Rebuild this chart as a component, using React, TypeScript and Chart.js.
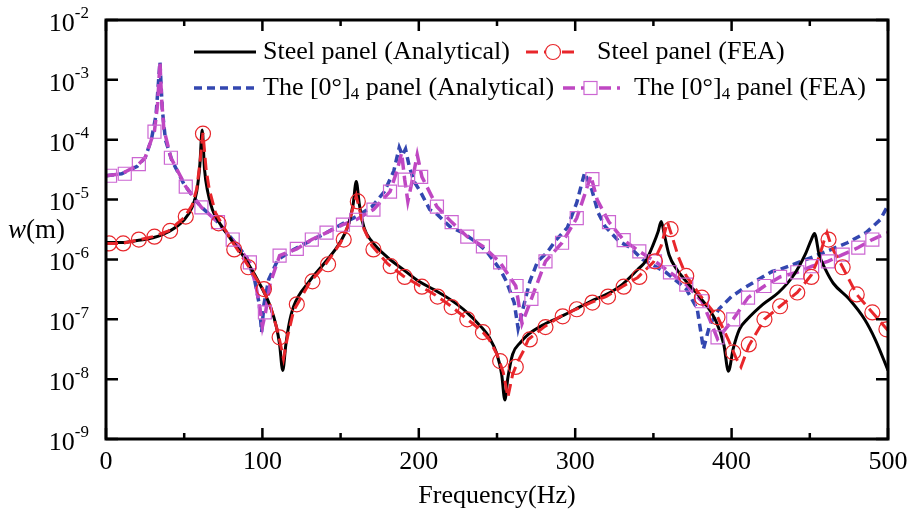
import React, { useEffect, useRef } from 'react';
import { Chart, registerables } from 'chart.js';

Chart.register(...registerables);

// ---------- tick labels ----------
const xMajorTicks = [0, 100, 200, 300, 400, 500];
const xMinorTicks = [50, 150, 250, 350, 450];
const yTickExponents = [-2, -3, -4, -5, -6, -7, -8, -9];

// ---------- Steel panel (Analytical) ----------
const steelAnaF = [0, 10, 20, 30, 40, 50, 55, 58, 60, 61.5, 63, 65, 68, 72, 80, 90, 100, 105, 109, 111, 113, 115, 117, 120, 130, 140, 150, 155, 158, 160, 162, 165, 170, 180, 190, 200, 210, 220, 230, 240, 245, 250, 253, 255, 257, 260, 265, 270, 280, 290, 300, 310, 320, 330, 340, 345, 350, 353, 355, 357, 360, 365, 370, 380, 390, 395, 398, 401, 405, 410, 420, 430, 440, 447, 451, 453, 456, 460, 465, 475, 485, 492, 500];
const steelAnaW = [1.92e-6, 1.92e-6, 2.07e-6, 2.3e-6, 2.9e-6, 4.6e-6, 7.4e-6, 1.36e-5, 3.8e-5, 1.45e-4, 3.2e-5, 1.36e-5, 6.8e-6, 4.3e-6, 2.15e-6, 9.3e-7, 3.2e-7, 1.65e-7, 7.4e-8, 3.8e-8, 1.4e-8, 3.8e-8, 8.2e-8, 1.65e-7, 4.3e-7, 8.9e-7, 2.0e-6, 3.8e-6, 8.3e-6, 2.0e-5, 8.3e-6, 3.4e-6, 2.0e-6, 1.08e-6, 6.8e-7, 4.3e-7, 3.1e-7, 2.15e-7, 1.36e-7, 7.4e-8, 5.0e-8, 2.6e-8, 1.2e-8, 4.5e-9, 1.08e-8, 2.6e-8, 4.1e-8, 5.6e-8, 8.2e-8, 1.08e-7, 1.47e-7, 2.0e-7, 2.6e-7, 3.8e-7, 6.8e-7, 9.3e-7, 1.8e-6, 2.9e-6, 4.3e-6, 2.6e-6, 1.2e-6, 6.8e-7, 4.6e-7, 2.3e-7, 9.3e-8, 3.8e-8, 1.36e-8, 3.2e-8, 6.8e-8, 1.0e-7, 1.78e-7, 2.8e-7, 5.6e-7, 1.2e-6, 2.15e-6, 2.7e-6, 1.2e-6, 6.8e-7, 4.0e-7, 2.2e-7, 1.0e-7, 4.5e-8, 1.4e-8];

// ---------- Steel panel (FEA) ----------
const steelFeaLineF = [0, 10, 20, 30, 40, 50, 55, 58, 60, 62, 64, 66, 70, 80, 90, 100, 105, 110, 113.5, 116, 120, 130, 140, 150, 155, 158, 160, 162, 165, 170, 180, 190, 200, 210, 220, 230, 240, 245, 250, 254, 257, 260, 263, 267, 270, 280, 290, 300, 310, 320, 330, 340, 350, 355, 357, 359, 362, 366, 371, 381, 391, 398, 403, 406, 411, 421, 431, 442, 451, 456, 459, 461, 464, 471, 480, 490, 500];
const steelFeaLineW = [1.85e-6, 1.85e-6, 2.1e-6, 2.4e-6, 3.0e-6, 5.0e-6, 8e-6, 1.5e-5, 4e-5, 1.3e-4, 3.2e-5, 1.5e-5, 6e-6, 2.1e-6, 8.5e-7, 3.3e-7, 1.7e-7, 6e-8, 2.2e-8, 5e-8, 1.4e-7, 4e-7, 8e-7, 1.9e-6, 3.8e-6, 7.5e-6, 1.15e-5, 7e-6, 3.2e-6, 1.7e-6, 8.5e-7, 5.3e-7, 3.7e-7, 2.6e-7, 1.7e-7, 1.05e-7, 6.5e-8, 4.6e-8, 2.6e-8, 1.3e-8, 5e-9, 1.2e-8, 1.9e-8, 3e-8, 4.6e-8, 7.4e-8, 1.1e-7, 1.45e-7, 1.9e-7, 2.4e-7, 3.5e-7, 5e-7, 9e-7, 1.7e-6, 2.7e-6, 4.2e-6, 2.4e-6, 1.1e-6, 5.3e-7, 2.3e-7, 1.1e-7, 4.5e-8, 2.2e-8, 1.6e-8, 3.6e-8, 1.0e-7, 1.65e-7, 2.8e-7, 5.5e-7, 1.1e-6, 2.0e-6, 2.8e-6, 1.6e-6, 7.4e-7, 2.6e-7, 1.3e-7, 6.5e-8];
const steelFeaMarkF = [2, 11, 21, 31, 41, 51, 62, 72, 82, 91, 101, 111, 122, 132, 142, 152, 161, 171, 182, 191, 202, 212, 221, 231, 241, 252, 262, 271, 281, 292, 301, 311, 321, 331, 341, 351, 361, 371, 381, 391, 401, 411, 421, 431, 442, 451, 462, 471, 480, 490, 499];
const steelFeaMarkW = [1.85e-6, 1.85e-6, 2.15e-6, 2.4e-6, 3.0e-6, 5.2e-6, 1.26e-4, 4.0e-6, 1.47e-6, 7.4e-7, 3.2e-7, 5.0e-8, 1.78e-7, 4.3e-7, 8.3e-7, 2.15e-6, 9.3e-6, 1.47e-6, 7.7e-7, 5.1e-7, 3.5e-7, 2.4e-7, 1.6e-7, 1.0e-7, 6.1e-8, 2.0e-8, 1.6e-8, 4.6e-8, 7.4e-8, 1.12e-7, 1.47e-7, 1.9e-7, 2.4e-7, 3.5e-7, 5.1e-7, 9.3e-7, 3.2e-6, 5.3e-7, 2.3e-7, 1.08e-7, 2.8e-8, 3.8e-8, 1.0e-7, 1.65e-7, 2.8e-7, 5.1e-7, 2.15e-6, 7.4e-7, 2.6e-7, 1.3e-7, 6.8e-8];

// ---------- The [0°]4 panel (Analytical) ----------
const laminaAnaF = [0, 10, 20, 25, 29, 32, 34.5, 36, 38, 42, 50, 60, 70, 80, 90, 95, 98, 99.5, 101, 104, 110, 120, 130, 140, 150, 160, 170, 178, 184, 187.5, 189.5, 191.5, 194, 197, 201, 207, 212, 220, 228, 236, 243, 252, 256, 261, 263.5, 266.6, 271, 276, 282, 288, 295, 301, 306, 310.6, 314.6, 319, 328, 335, 343, 358, 371, 378, 382, 386, 392, 400, 407, 417, 426, 431, 452, 474, 486, 495, 500];
const laminaAnaW = [2.5e-5, 2.7e-5, 3.6e-5, 5e-5, 1e-4, 2.6e-4, 2e-3, 3.2e-4, 1e-4, 4.6e-5, 1.78e-5, 7.9e-6, 4.6e-6, 2.3e-6, 1.08e-6, 4.6e-7, 1.78e-7, 6.1e-8, 1.78e-7, 4.6e-7, 1.0e-6, 1.47e-6, 2.0e-6, 2.7e-6, 3.8e-6, 5.2e-6, 7.6e-6, 1.36e-5, 3.0e-5, 7.4e-5, 5.5e-5, 7.0e-5, 3.5e-5, 2.0e-5, 1.36e-5, 6.8e-6, 5.6e-6, 3.5e-6, 2.8e-6, 2.0e-6, 1.4e-6, 6.8e-7, 4.3e-7, 1.9e-7, 7e-8, 1.5e-7, 4.3e-7, 9.3e-7, 1.3e-6, 2.15e-6, 3.4e-6, 8.9e-6, 2.8e-5, 1.47e-5, 6.1e-6, 3.6e-6, 2.0e-6, 1.6e-6, 1.0e-6, 6.1e-7, 3.2e-7, 1.5e-7, 3.2e-8, 8e-8, 1.5e-7, 2.4e-7, 3.2e-7, 4.6e-7, 6.3e-7, 6.8e-7, 1.1e-6, 1.9e-6, 2.8e-6, 4.6e-6, 8e-6];

// ---------- The [0°]4 panel (FEA) ----------
const laminaFeaLineF = [0, 10, 20, 25, 29, 31, 33, 34.5, 35.5, 37, 41.5, 51, 61, 71.6, 81, 92, 96, 99, 100, 102, 105, 111, 122, 131.6, 141, 151.5, 160, 171, 181.6, 186, 189, 191, 193, 196, 199, 202, 211.6, 221, 231, 241, 252, 262, 266, 272, 281, 291.6, 301, 306, 310, 314, 321.6, 331, 341, 351, 360.6, 371, 381, 386, 391, 401, 410.5, 421, 431, 442, 451.5, 461.6, 471, 481, 490, 500];
const laminaFeaLineW = [2.5e-5, 2.7e-5, 3.7e-5, 5e-5, 1.0e-4, 1.4e-4, 4e-4, 2e-3, 5e-4, 1.5e-4, 5e-5, 1.65e-5, 7.4e-6, 4.2e-6, 2.15e-6, 8.9e-7, 3.5e-7, 1.2e-7, 7.6e-8, 1.3e-7, 4e-7, 1.16e-6, 1.5e-6, 2.15e-6, 2.8e-6, 3.8e-6, 4.6e-6, 6.8e-6, 1.36e-5, 3e-5, 6e-5, 2.15e-5, 9.3e-6, 2.2e-5, 5.6e-5, 2.4e-5, 7.6e-6, 4.2e-6, 2.4e-6, 1.65e-6, 8.9e-7, 3.6e-7, 8.5e-8, 2.2e-7, 9.3e-7, 1.9e-6, 4.9e-6, 1.2e-5, 2.5e-5, 1.0e-5, 4.2e-6, 2.1e-6, 1.36e-6, 9.3e-7, 6.1e-7, 3.8e-7, 2.0e-7, 1.0e-7, 4.7e-8, 1.0e-7, 2.3e-7, 3.6e-7, 5.1e-7, 6.1e-7, 7.7e-7, 9.3e-7, 1.2e-6, 1.58e-6, 2.15e-6, 2.8e-6];
const laminaFeaMarkF = [2.6, 12, 21, 31, 41.5, 51, 61, 71.6, 81, 92, 101.6, 111, 122, 131.6, 141, 151.5, 160, 171, 181.6, 191, 201.5, 211.6, 221, 231, 241, 252, 262.5, 272, 281, 291.6, 301, 311, 321.6, 331, 341, 351, 360.6, 371, 381, 391, 401, 410.5, 421, 431, 442, 451.5, 461.6, 471, 481, 490];
const laminaFeaMarkW = [2.5e-5, 2.7e-5, 3.9e-5, 1.36e-4, 5e-5, 1.65e-5, 7.4e-6, 4.2e-6, 2.15e-6, 8.9e-7, 1.3e-7, 1.16e-6, 1.5e-6, 2.15e-6, 2.8e-6, 3.8e-6, 4.6e-6, 6.8e-6, 1.36e-5, 2.15e-5, 2.4e-5, 7.6e-6, 4.2e-6, 2.4e-6, 1.65e-6, 8.9e-7, 3.6e-7, 2.2e-7, 9.3e-7, 1.9e-6, 4.9e-6, 2.2e-5, 4.2e-6, 2.1e-6, 1.36e-6, 9.3e-7, 6.1e-7, 3.8e-7, 2.0e-7, 5e-8, 1.0e-7, 2.3e-7, 3.6e-7, 5.1e-7, 6.1e-7, 7.7e-7, 9.3e-7, 1.2e-6, 1.58e-6, 2.15e-6];

// ---------- styles ----------
const BLACK = '#000000';
const RED = '#e8262b';
const BLUE = '#3347b0';
const MAGENTA = '#bf47c2';
const MAGENTA_MARK = '#cc66d2';
const FONT = '"Liberation Serif", "Times New Roman", serif';
const SX = 1.0;
const FS = 26;
const FS_SMALL = 17;

const pts = (f: number[], w: number[]) => f.map((x, i) => ({ x, y: w[i] }));

function drawText(ctx: CanvasRenderingContext2D, s: string, x: number, y: number, size: number, align: CanvasTextAlign, italic = false) {
  ctx.save();
  ctx.font = `${italic ? 'italic ' : ''}${size}px ${FONT}`;
  ctx.textBaseline = 'middle';
  ctx.textAlign = align;
  ctx.fillStyle = '#000';
  ctx.translate(x, y);
  ctx.scale(SX, 1);
  ctx.fillText(s, 0, 0);
  ctx.restore();
}
function measure(ctx: CanvasRenderingContext2D, s: string, size: number, italic = false) {
  ctx.save();
  ctx.font = `${italic ? 'italic ' : ''}${size}px ${FONT}`;
  const w = ctx.measureText(s).width * SX;
  ctx.restore();
  return w;
}

const decorPlugin = {
  id: 'decor',
  afterDraw(chart: any) {
    const ctx: CanvasRenderingContext2D = chart.ctx;
    const { left, right, top, bottom } = chart.chartArea;
    const xs = chart.scales.x;
    const ys = chart.scales.y;
    ctx.save();
    ctx.strokeStyle = '#000';
    ctx.lineWidth = 3;
    ctx.strokeRect(left, top, right - left, bottom - top);
    ctx.lineWidth = 2.5;
    ctx.beginPath();
    xMajorTicks.forEach((v) => {
      const px = xs.getPixelForValue(v);
      ctx.moveTo(px, bottom); ctx.lineTo(px, bottom - 11);
      ctx.moveTo(px, top); ctx.lineTo(px, top + 11);
    });
    xMinorTicks.forEach((v) => {
      const px = xs.getPixelForValue(v);
      ctx.moveTo(px, bottom); ctx.lineTo(px, bottom - 6);
      ctx.moveTo(px, top); ctx.lineTo(px, top + 6);
    });
    yTickExponents.forEach((e) => {
      const py = ys.getPixelForValue(Math.pow(10, e));
      ctx.moveTo(left, py); ctx.lineTo(left + 12, py);
      ctx.moveTo(right, py); ctx.lineTo(right - 12, py);
    });
    ctx.stroke();
    ctx.restore();

    // x tick labels
    xMajorTicks.forEach((v) => {
      drawText(ctx, String(v), xs.getPixelForValue(v), bottom + 23, FS, 'center');
    });
    // y tick labels 10^e
    yTickExponents.forEach((e) => {
      const py = ys.getPixelForValue(Math.pow(10, e));
      const sup = String(e);
      const supW = measure(ctx, sup, FS_SMALL);
      const rightEdge = left - 17;
      drawText(ctx, sup, rightEdge - supW, py - 6, FS_SMALL, 'left');
      drawText(ctx, '10', rightEdge - supW, py + 4, FS, 'right');
    });
    // axis titles
    drawText(ctx, 'Frequency(Hz)', (left + right) / 2, bottom + 57, FS, 'center');
    const wW = measure(ctx, 'w', 27, true);
    drawText(ctx, 'w', 8, 231, 27, 'left', true);
    drawText(ctx, '(m)', 8 + wW, 231, 27, 'left');

    // legend
    const y1 = 52;
    const y2 = 88;
    ctx.save();
    ctx.lineWidth = 3;
    ctx.strokeStyle = BLACK;
    ctx.beginPath(); ctx.moveTo(194, y1); ctx.lineTo(256, y1); ctx.stroke();
    ctx.strokeStyle = RED;
    ctx.setLineDash([12, 6]);
    ctx.beginPath(); ctx.moveTo(526, y1); ctx.lineTo(580, y1); ctx.stroke();
    ctx.setLineDash([8, 5]);
    ctx.lineWidth = 3.5;
    ctx.strokeStyle = BLUE;
    ctx.beginPath(); ctx.moveTo(194, y2); ctx.lineTo(258, y2); ctx.stroke();
    ctx.setLineDash([12, 6]);
    ctx.strokeStyle = MAGENTA;
    ctx.beginPath(); ctx.moveTo(563, y2); ctx.lineTo(620, y2); ctx.stroke();
    ctx.setLineDash([]);
    ctx.lineWidth = 1.2;
    ctx.strokeStyle = RED;
    ctx.fillStyle = '#fff';
    ctx.beginPath(); ctx.arc(553, y1, 7.5, 0, Math.PI * 2); ctx.fill(); ctx.stroke();
    ctx.strokeStyle = MAGENTA_MARK;
    ctx.fillRect(584, y2 - 6.5, 13, 13);
    ctx.strokeRect(584, y2 - 6.5, 13, 13);
    ctx.restore();

    drawText(ctx, 'Steel panel (Analytical)', 263, y1, FS, 'left');
    drawText(ctx, 'Steel panel (FEA)', 597, y1, FS, 'left');
    const drawLam = (x: number, tail: string) => {
      const a = 'The [0°]';
      const aw = measure(ctx, a, FS);
      drawText(ctx, a, x, y2, FS, 'left');
      drawText(ctx, '4', x + aw, y2 + 7, FS_SMALL, 'left');
      const sw = measure(ctx, '4', FS_SMALL);
      drawText(ctx, tail, x + aw + sw, y2, FS, 'left');
    };
    drawLam(263, ' panel (Analytical)');
    drawLam(634, ' panel (FEA)');
  },
};

export default function App() {
  const ref = useRef<HTMLCanvasElement>(null);
  useEffect(() => {
    document.body.style.margin = '0';
    if (!ref.current) return;
    const chart = new Chart(ref.current, {
      type: 'line',
      data: {
        datasets: [
          {
            label: 'The [0°]4 panel (Analytical)',
            data: pts(laminaAnaF, laminaAnaW),
            borderColor: BLUE,
            borderWidth: 3.5,
            borderDash: [8, 5],
            pointRadius: 0,
            fill: false,
            order: 6,
          },
          {
            label: 'The [0°]4 panel (FEA) line',
            data: pts(laminaFeaLineF, laminaFeaLineW),
            borderColor: MAGENTA,
            borderWidth: 3.5,
            borderDash: [12, 6],
            pointRadius: 0,
            fill: false,
            order: 5,
          },
          {
            label: 'Steel panel (Analytical)',
            data: pts(steelAnaF, steelAnaW),
            borderColor: BLACK,
            borderWidth: 3,
            pointRadius: 0,
            cubicInterpolationMode: 'monotone',
            fill: false,
            order: 4,
          },
          {
            label: 'Steel panel (FEA) line',
            data: pts(steelFeaLineF, steelFeaLineW),
            borderColor: RED,
            borderWidth: 3,
            borderDash: [12, 6],
            pointRadius: 0,
            fill: false,
            order: 3,
          },
          {
            label: 'The [0°]4 panel (FEA)',
            data: pts(laminaFeaMarkF, laminaFeaMarkW),
            showLine: false,
            pointStyle: 'rect',
            pointRadius: 9.2,
            pointBorderWidth: 1.2,
            pointBorderColor: MAGENTA_MARK,
            pointBackgroundColor: 'rgba(0,0,0,0)',
            order: 2,
          },
          {
            label: 'Steel panel (FEA)',
            data: pts(steelFeaMarkF, steelFeaMarkW),
            showLine: false,
            pointStyle: 'circle',
            pointRadius: 7.5,
            pointBorderWidth: 1.2,
            pointBorderColor: RED,
            pointBackgroundColor: 'rgba(0,0,0,0)',
            order: 1,
          },
        ] as any,
      },
      options: {
        responsive: false,
        animation: false,
        devicePixelRatio: 1,
        layout: { padding: { left: 106, top: 20, right: 23, bottom: 77 } },
        scales: {
          x: { type: 'linear', min: 0, max: 500, display: false },
          y: { type: 'logarithmic', min: 1e-9, max: 1e-2, display: false },
        },
        plugins: { legend: { display: false }, tooltip: { enabled: false } },
        elements: { line: { tension: 0 } },
      } as any,
      plugins: [decorPlugin],
    });
    return () => chart.destroy();
  }, []);
  return (
    <div style={{ width: 911, height: 516 }}>
      <canvas ref={ref} width={911} height={516} style={{ display: 'block', width: 911, height: 516 }} />
    </div>
  );
}
